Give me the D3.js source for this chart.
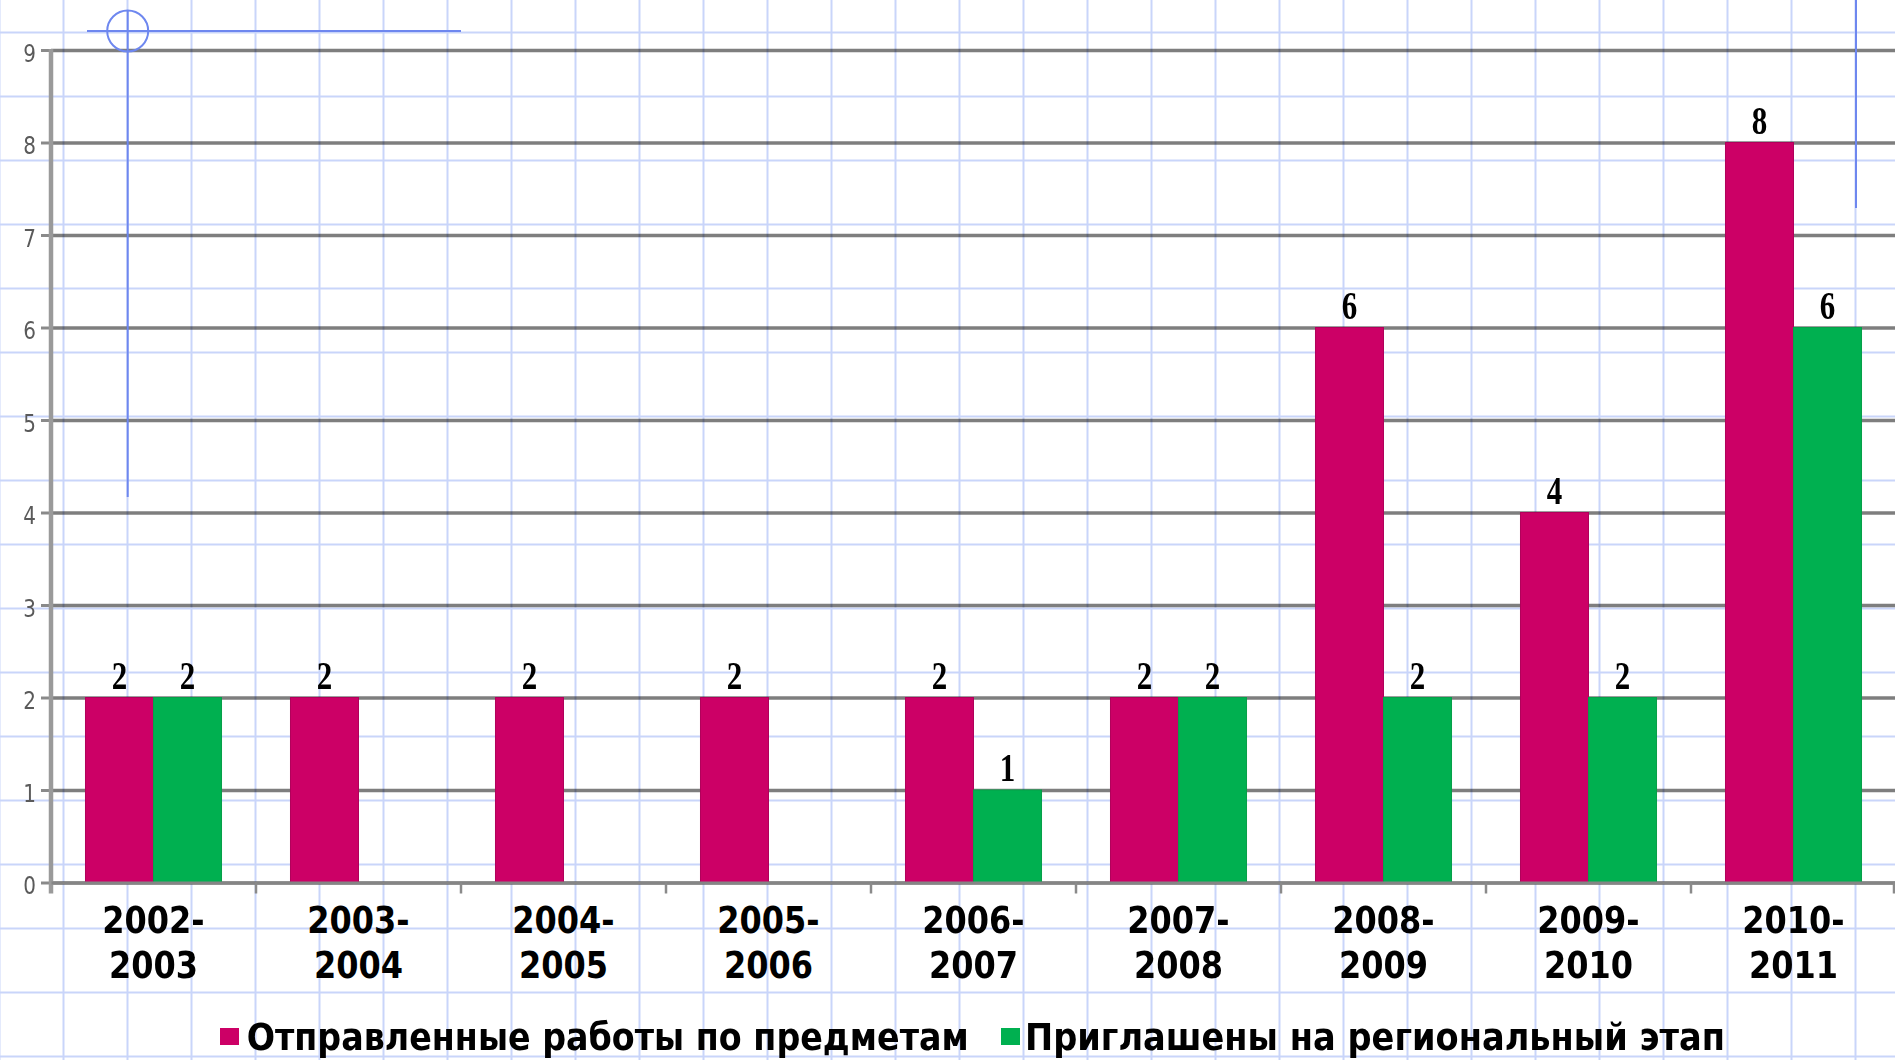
<!DOCTYPE html>
<html>
<head>
<meta charset="utf-8">
<script src="https://cdn.jsdelivr.net/npm/d3@7"></script>
<style>
  html, body { margin: 0; padding: 0; background: #ffffff; }
  svg { display: block; }
</style>
</head>
<body>
<svg id="chart" width="1895" height="1060"></svg>
<script>
// ---- data ----
const categories = ["2002-2003", "2003-2004", "2004-2005", "2005-2006", "2006-2007",
                    "2007-2008", "2008-2009", "2009-2010", "2010-2011"];
const seriesNames = ["Отправленные работы по предметам", "Приглашены на региональный этап"];
const sentWorks = [2, 2, 2, 2, 2, 2, 6, 4, 8];
const invitedRegional = [2, null, null, null, 1, 2, 2, 2, 6];
const yTicks = [0, 1, 2, 3, 4, 5, 6, 7, 8, 9];
const seriesColors = ["#CC0066", "#00B050"];

(function () {
// ---- layout ----
const W = 1895, H = 1060;
const plotLeft = 51, plotRight = 1896, plotTop = 50, plotBottom = 882.5;
const svg = d3.select("#chart");

svg.append("rect").attr("width", W).attr("height", H).attr("fill", "#ffffff");

// squared-paper background
const paper = svg.append("g").attr("stroke", "#c9d5fa").attr("stroke-width", 2);
paper.selectAll("line.v").data(d3.range(-0.5, W + 64, 64)).join("line").attr("class", "v")
  .attr("x1", d => d).attr("x2", d => d).attr("y1", 0).attr("y2", H);
paper.selectAll("line.h").data(d3.range(32.5, H + 64, 64)).join("line").attr("class", "h")
  .attr("y1", d => d).attr("y2", d => d).attr("x1", 0).attr("x2", W);

const defs = svg.append("defs");
defs.append("filter").attr("id", "soft")
  .attr("filterUnits", "userSpaceOnUse")
  .attr("x", -10).attr("y", -10).attr("width", W + 20).attr("height", H + 20)
  .append("feGaussianBlur").attr("stdDeviation", 0.7);

// ---- scales ----
const x0 = d3.scaleBand().domain(categories).range([plotLeft, plotRight]).paddingInner(0).paddingOuter(0);
const x1 = d3.scaleBand().domain([0, 1]).range([0, x0.bandwidth()]).paddingInner(0).paddingOuter(0.507);
const y = d3.scaleLinear().domain([0, 9]).range([plotBottom, plotTop]);

// gridlines
const grid = svg.append("g").attr("transform", `translate(${plotLeft},0)`)
  .style("mix-blend-mode", "multiply").attr("filter", "url(#soft)")
  .call(d3.axisLeft(y).tickValues(yTicks).tickSize(-(W - plotLeft)).tickFormat(""));
grid.select(".domain").remove();
grid.selectAll(".tick line").attr("stroke", "#7e7e7e").attr("stroke-width", 3.6);

// bars
const rows = categories.map((c, i) => ({ c, vals: [sentWorks[i], invitedRegional[i]] }));
const groups = svg.append("g").selectAll("g").data(rows).join("g")
  .attr("transform", d => `translate(${x0(d.c)},0)`);
groups.selectAll("rect").data(d => d.vals.map((v, s) => ({ v, s })).filter(d => d.v != null))
  .join("rect")
  .attr("x", d => x1(d.s)).attr("width", x1.bandwidth())
  .attr("y", d => y(d.v)).attr("height", d => y(0) - y(d.v))
  .attr("fill", d => seriesColors[d.s])
  .attr("stroke", d => d.s === 0 ? "#b0005a" : "#06a049").attr("stroke-width", 1);

// value labels
groups.selectAll("text").data(d => d.vals.map((v, s) => ({ v, s })).filter(d => d.v != null))
  .join("text")
  .attr("transform", d => `translate(${x1(d.s) + x1.bandwidth() / 2},${y(d.v) - 9}) scale(1,1.27)`)
  .attr("text-anchor", "middle")
  .attr("font-family", "'Liberation Serif', 'Times New Roman', serif")
  .attr("font-weight", "bold").attr("font-size", 31).attr("fill", "#000")
  .text(d => d.v);

// y axis
const yAx = svg.append("g").attr("transform", `translate(${plotLeft},0)`)
  .call(d3.axisLeft(y).tickValues(yTicks).tickSize(10).tickPadding(5));
yAx.select(".domain").remove();
yAx.selectAll(".tick line").attr("stroke", "#8a8a8a").attr("stroke-width", 3).attr("filter", "url(#soft)");
yAx.selectAll(".tick text")
  .attr("font-family", "'DejaVu Sans', Verdana, sans-serif").attr("font-size", 20)
  .attr("fill", "#5a5a5a").attr("dy", "0.45em")
  .attr("transform", "scale(1,1.25)");
svg.append("line").attr("x1", plotLeft).attr("x2", plotLeft).attr("y1", plotTop - 1).attr("y2", plotBottom + 11)
  .attr("stroke", "#9a9a9a").attr("stroke-width", 4.5).attr("filter", "url(#soft)");

// x axis
const xAx = svg.append("g").attr("transform", `translate(0,${plotBottom})`)
  .call(d3.axisBottom(x0).tickSize(0).tickFormat(""));
xAx.select(".domain").attr("stroke", "#858585").attr("stroke-width", 3).attr("filter", "url(#soft)");
xAx.selectAll(".tick").each(function (d) {
  const parts = d.split("-");
  const g = d3.select(this);
  [[parts[0] + "-", 50], [parts[1], 95]].forEach(([t, dy]) => {
    g.append("text").attr("transform", `translate(0,${dy}) scale(1,1.17)`)
      .attr("text-anchor", "middle")
      .attr("font-family", "'DejaVu Sans', Verdana, sans-serif")
      .attr("font-weight", "bold").attr("font-size", 32).attr("fill", "#000")
      .text(t);
  });
});
svg.append("g").selectAll("line").data(categories.slice(1).concat([null])).join("line")
  .attr("x1", d => d ? x0(d) : plotRight - 2).attr("x2", d => d ? x0(d) : plotRight - 2)
  .attr("y1", plotBottom).attr("y2", plotBottom + 11)
  .attr("stroke", "#8a8a8a").attr("stroke-width", 2.5).attr("filter", "url(#soft)");

// legend
const legendPos = [{ mx: 220, tx: 246.7, tw: 722 }, { mx: 1001, tx: 1025, tw: 700 }];
const leg = svg.append("g").selectAll("g").data(seriesNames).join("g");
leg.append("rect").attr("x", (d, i) => legendPos[i].mx).attr("y", 1028)
  .attr("width", 19).attr("height", 17).attr("fill", (d, i) => seriesColors[i]);
leg.append("text").attr("x", (d, i) => legendPos[i].tx).attr("y", 1050)
  .attr("font-family", "'DejaVu Sans', Verdana, sans-serif")
  .attr("font-weight", "bold").attr("font-size", 37).attr("fill", "#000")
  .attr("textLength", (d, i) => legendPos[i].tw).attr("lengthAdjust", "spacingAndGlyphs")
  .text(d => d);

// decorative blue pen strokes
const pen = svg.append("g").attr("stroke", "#6e87ef").attr("stroke-width", 2).attr("fill", "none");
pen.append("line").attr("x1", 87).attr("x2", 461).attr("y1", 31).attr("y2", 31);
pen.append("circle").attr("cx", 127.7).attr("cy", 31).attr("r", 20.5);
pen.append("line").attr("x1", 127.7).attr("x2", 127.7).attr("y1", 10).attr("y2", 497);
pen.append("line").attr("x1", 1856).attr("x2", 1856).attr("y1", 0).attr("y2", 208);
})();
</script>
</body>
</html>
